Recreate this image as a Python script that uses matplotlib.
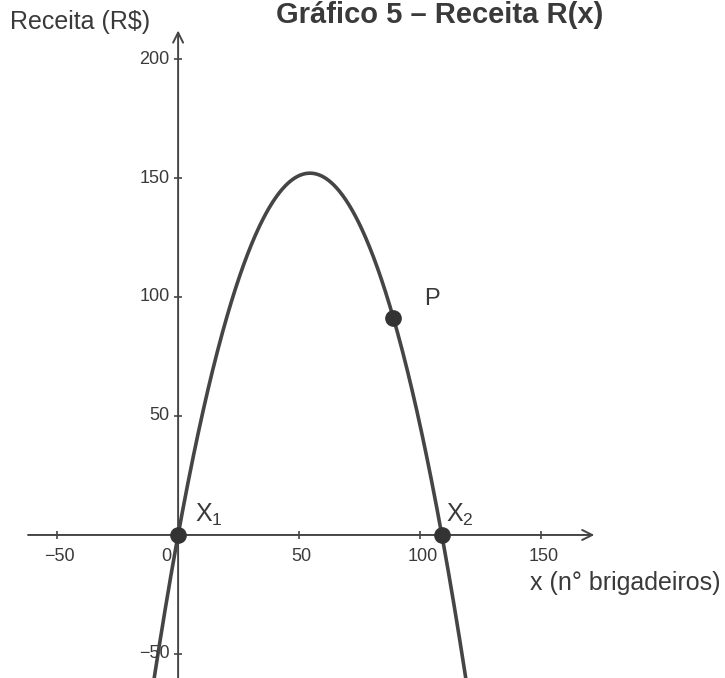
import numpy as np
import matplotlib.pyplot as plt

plt.rcParams['font.family'] = ['Liberation Sans', 'DejaVu Sans']
plt.rcParams['mathtext.fontset'] = 'custom'
plt.rcParams['mathtext.rm'] = 'Liberation Sans'
plt.rcParams['mathtext.it'] = 'Liberation Sans'

# R(x) = a*x^2 + b*x (roots 0 and ~109, top ~152)
a = -0.0512
b = 5.58

pt_names = ['X$_1$', 'X$_2$', 'P']
pt_x = [0, 109, 89]
pt_y = [0, 0, 91]

xticks = [-50, 0, 50, 100, 150]
yticks = [-50, 50, 100, 150, 200]

txt = '#3a3a3a'
dark = '#454545'

fig = plt.figure(figsize=(7.25, 6.78), dpi=100)
ax = fig.add_axes([0, 0, 1, 1])
ax.set_xlim(-73.6, 226.0)
ax.set_ylim(-60.1, 224.8)
ax.axis('off')

# axes with arrows
ax.annotate('', xy=(172, 0), xytext=(-62, 0),
            arrowprops=dict(arrowstyle='->', color=dark, lw=1.4,
                            mutation_scale=18, shrinkA=0, shrinkB=0))
ax.annotate('', xy=(0, 212), xytext=(0, -61),
            arrowprops=dict(arrowstyle='->', color=dark, lw=1.4,
                            mutation_scale=18, shrinkA=0, shrinkB=0))

def lab(t):
    return '%d' % t if t >= 0 else '\u2212%d' % -t

# ticks
for t in xticks:
    if t != 0:
        ax.plot([t], [0], marker='|', ms=6, mew=1.2, color=dark)
        ax.text(t + 1, -5.5, lab(t), ha='center', va='top', fontsize=13, color=txt)
ax.text(-5, -5.5, '0', ha='center', va='top', fontsize=13, color=txt)
for t in yticks:
    ax.plot([0], [t], marker='_', ms=6, mew=1.2, color=dark)
    ax.text(-3.5, t, lab(t), ha='right', va='center', fontsize=13, color=txt)

# the parabola
xs = np.linspace(-12, 121, 400)
ax.plot(xs, a * xs**2 + b * xs, color=dark, lw=2.6, solid_capstyle='round')

ax.plot(pt_x, pt_y, 'o', ms=11, color='#333333', zorder=5)
ax.text(7, 8.5, pt_names[0], fontsize=18, color=txt, va='center')
ax.text(110.5, 8.5, pt_names[1], fontsize=18, color=txt, va='center')
ax.text(101.5, 99, pt_names[2], fontsize=17, color=txt, va='center')

ax.text(-69.4, 215.5, 'Receita (R$)', fontsize=18, color=txt, va='center')
ax.text(224, -20, 'x (n\u00b0 brigadeiros)', fontsize=18, color=txt,
        ha='right', va='center')

fig.text(0.607, 1 - 1 / 678, 'Gr\u00e1fico 5 \u2013 Receita R(x)', fontsize=21,
         fontweight='bold', color=txt, ha='center', va='top')

fig.savefig('out.png', dpi=100, facecolor='white')
